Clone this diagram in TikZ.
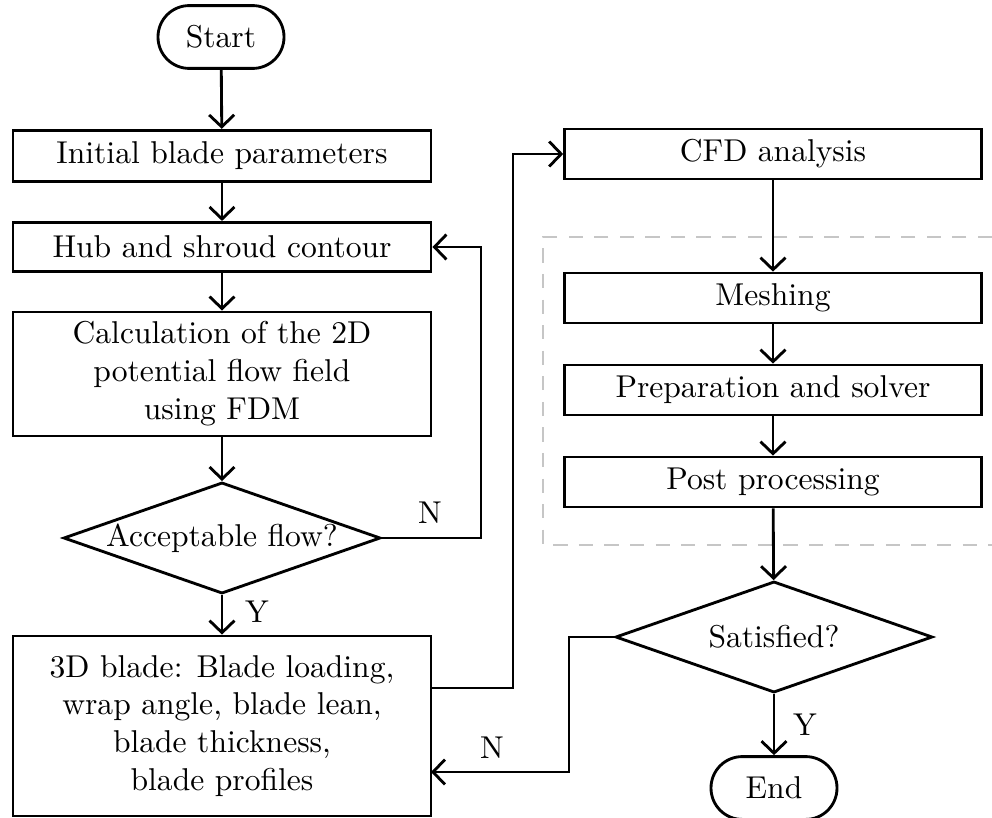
\documentclass[tikz,border=0pt]{standalone}
\usetikzlibrary{arrows.meta,shapes.geometric}
\begin{document}
\begin{tikzpicture}[x=0.3167pt,y=-0.3167pt,
  every node/.style={font=\normalsize},
  proc/.style={draw,line width=0.9pt,rectangle,inner sep=0pt,align=center},
  term/.style={draw,line width=0.9pt,rectangle,rounded corners=9.9pt,minimum width=39.9pt,minimum height=19.9pt,inner sep=0pt},
  dec/.style={draw,line width=0.9pt,diamond,aspect=2.85,inner sep=0pt,minimum width=100.4pt,minimum height=35.2pt},
  arr/.style={line width=0.9pt,-{Straight Barb[length=3.8pt,width=7.9pt]}},
  lbl/.style={inner sep=0pt}]
\useasboundingbox (0,0) rectangle (992,818);
% dashed group
\draw[gray!45,line width=0.6pt,dash pattern=on 4.5pt off 3.6pt] (992,237) -- (543,237) -- (543,545) -- (992,545);
% left column
\node[term] (start) at (221,37) {Start};
\node[proc,minimum width=132.4pt,minimum height=16.3pt] (init) at (222,156) {Initial blade parameters};
\node[proc,minimum width=132.4pt,minimum height=15.6pt] (hub) at (222,247) {Hub and shroud contour};
\node[proc,minimum width=132.4pt,minimum height=39.3pt] (calc) at (222,374) {Calculation of the 2D\\potential flow field\\using FDM};
\node[dec] (acc) at (222,538) {Acceptable flow?};
\node[proc,minimum width=132.4pt,minimum height=57pt] (blade) at (222,726) {3D blade: Blade loading,\\wrap angle, blade lean,\\blade thickness,\\blade profiles};
% right column
\node[proc,minimum width=132pt,minimum height=15.8pt] (cfd) at (773,154) {CFD analysis};
\node[proc,minimum width=132pt,minimum height=15.8pt] (mesh) at (773,298) {Meshing};
\node[proc,minimum width=132pt,minimum height=15.8pt] (prep) at (773,390) {Preparation and solver};
\node[proc,minimum width=132pt,minimum height=15.8pt] (post) at (773,482) {Post processing};
\node[dec] (sat) at (774,637) {Satisfied?};
\node[term] (end) at (774,788) {End};
% labels
\node[lbl] (n1) at (430,513) {N};
\node[lbl] (y1) at (257,612) {Y};
\node[lbl] (y2) at (805,725) {Y};
\node[lbl] (n2) at (492,748) {N};
% waypoints
\coordinate (r1) at (481,538);
\coordinate (b1) at (431,688);
\coordinate (c1) at (513,688);
\coordinate (s1) at (569,637);
\coordinate (b2) at (431,772);
% connectors
\draw[arr] (start) -- (init);
\draw[arr] (init) -- (hub);
\draw[arr] (hub) -- (calc);
\draw[arr] (calc) -- (acc);
\draw[arr] (acc) -- (blade);
\draw[arr] (acc.east) -- (r1) |- (hub.east);
\draw[arr] (b1) -- (c1) |- (cfd.west);
\draw[arr] (cfd) -- (mesh);
\draw[arr] (mesh) -- (prep);
\draw[arr] (prep) -- (post);
\draw[arr] (post) -- (sat);
\draw[arr] (sat) -- (end);
\draw[arr] (sat.west) -- (s1) |- (b2);
\end{tikzpicture}
\end{document}
